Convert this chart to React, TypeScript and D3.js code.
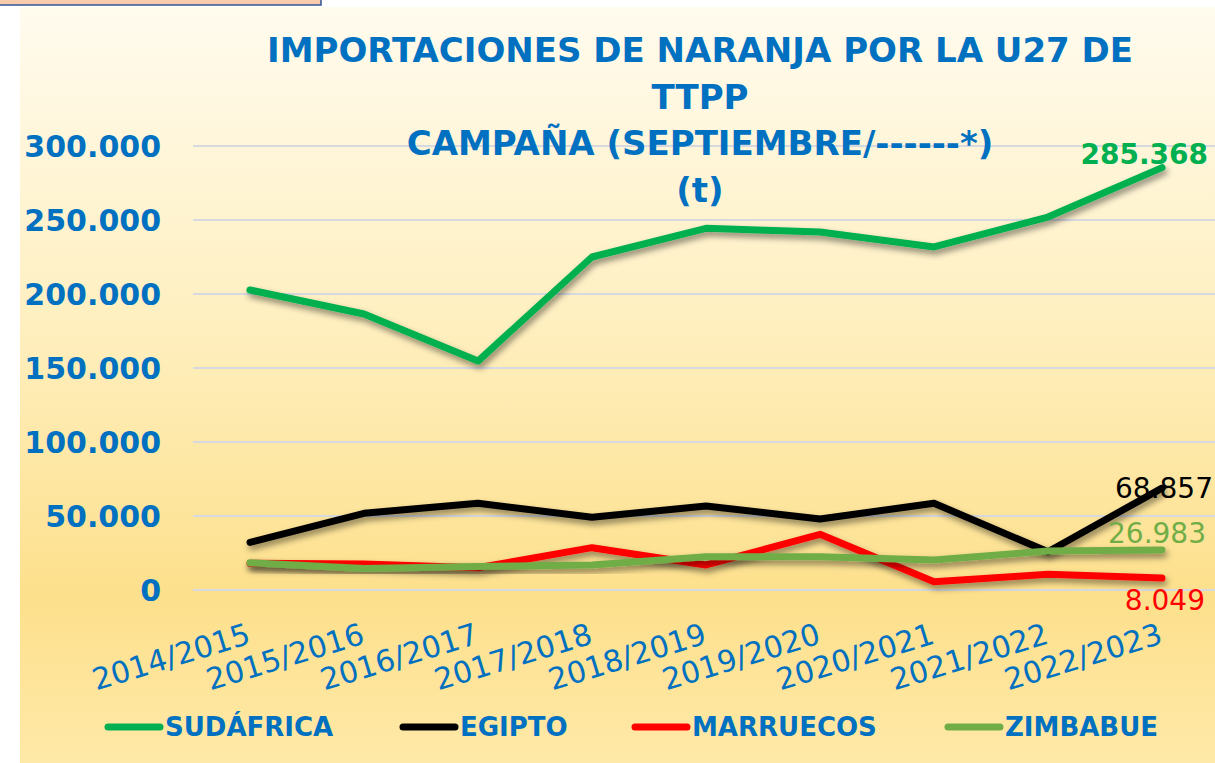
import React from "react";
import * as d3 from "d3";

const campaigns = [
  "2014/2015", "2015/2016", "2016/2017", "2017/2018", "2018/2019",
  "2019/2020", "2020/2021", "2021/2022", "2022/2023",
];
const sudafrica = [202700, 186500, 154700, 225000, 244400, 241900, 231800, 252000, 285368];
const egipto = [32200, 51800, 58600, 49100, 56800, 48000, 58600, 25800, 68857];
const marruecos = [18000, 17600, 15000, 28600, 16900, 37600, 5600, 10600, 8049];
const zimbabue = [18400, 14600, 15800, 16900, 22500, 22500, 20300, 26400, 26983];
const yTicks = [0, 50000, 100000, 150000, 200000, 250000, 300000];
const titleLines = [
  "IMPORTACIONES DE NARANJA POR LA U27 DE",
  "TTPP",
  "CAMPAÑA (SEPTIEMBRE/------*)",
  "(t)",
];

const series = [
  { name: "SUDÁFRICA", values: sudafrica, color: "#00B050" },
  { name: "EGIPTO", values: egipto, color: "#000000" },
  { name: "MARRUECOS", values: marruecos, color: "#FF0000" },
  { name: "ZIMBABUE", values: zimbabue, color: "#70AD47" },
];

const W = 1215;
const H = 763;
const blue = "#0070C0";
const font = "'DejaVu Sans', Verdana, sans-serif";

// number format with dots as thousands separator
const fmt = (v: number) => d3.format(",")(v).replace(/,/g, ".");

export default function App() {
  const x = d3.scalePoint<string>().domain(campaigns).range([250, 1162]);
  const y = d3.scaleLinear().domain([0, 300000]).range([590, 146]);
  const line = d3
    .line<number>()
    .x((_, i) => x(campaigns[i]) as number)
    .y((d) => y(d));

  const last = campaigns.length - 1;
  // end labels: right edge and baseline offset from last point (same order as series)
  const endLabels = [
    { right: 1208, dy: -4, weight: "bold" },
    { right: 1213, dy: 10, weight: "normal" },
    { right: 1205, dy: 32, weight: "normal" },
    { right: 1206, dy: -7, weight: "normal" },
  ];

  const legendX = [105, 400, 632, 945];

  return (
    <svg
      width={W}
      height={H}
      style={{ position: "absolute", left: 0, top: 0, display: "block" }}
    >
      <defs>
        <linearGradient id="bg" x1="0" y1="0" x2="0" y2="1">
          <stop offset="0" stopColor="#FFFBEE" />
          <stop offset="0.4" stopColor="#FFF0C2" />
          <stop offset="0.78" stopColor="#FDE08C" />
          <stop offset="1" stopColor="#FFE9A8" />
        </linearGradient>
        <filter id="shadow" x="-10%" y="-30%" width="120%" height="160%">
          <feDropShadow dx="2" dy="4" stdDeviation="3" floodColor="#000" floodOpacity="0.45" />
        </filter>
      </defs>
      <rect x={0} y={0} width={W} height={H} fill="#ffffff" />
      <rect x={20} y={7} width={W - 20} height={H - 7} fill="url(#bg)" />
      <rect x={-2} y={-4} width={323} height={9} fill="#F8CBAD" stroke="#2F5597" strokeWidth={1.5} />

      {/* gridlines */}
      {yTicks.map((t) => (
        <line key={t} x1={193} x2={W} y1={y(t)} y2={y(t)} stroke="#D6D9E0" strokeWidth={2} />
      ))}

      {/* y tick labels */}
      {yTicks.map((t) => (
        <text
          key={"l" + t}
          x={161}
          y={y(t)}
          dy="0.36em"
          textAnchor="end"
          fill={blue}
          fontFamily={font}
          fontWeight="bold"
          fontSize={30}
        >
          {t === 0 ? "0" : fmt(t)}
        </text>
      ))}

      {/* title */}
      {titleLines.map((s, i) => (
        <text
          key={s}
          x={700}
          y={62 + i * 46.5}
          textAnchor="middle"
          fill={blue}
          fontFamily={font}
          fontWeight="bold"
          fontSize={34}
        >
          {s}
        </text>
      ))}

      {/* lines */}
      {series.map((s) => (
        <path
          key={s.name}
          d={line(s.values) || ""}
          fill="none"
          stroke={s.color}
          strokeWidth={7}
          strokeLinejoin="round"
          strokeLinecap="round"
          filter="url(#shadow)"
        />
      ))}

      {/* end labels */}
      {series.map((s, i) => (
        <text
          key={"e" + s.name}
          x={endLabels[i].right}
          y={y(s.values[last]) + endLabels[i].dy}
          textAnchor="end"
          fill={s.color}
          fontFamily={font}
          fontWeight={endLabels[i].weight}
          fontSize={28}
        >
          {fmt(s.values[last])}
        </text>
      ))}

      {/* x labels */}
      {campaigns.map((c) => (
        <text
          key={c}
          transform={`translate(${(x(c) as number) + 2},${643}) rotate(-17)`}
          textAnchor="end"
          fill={blue}
          fontFamily={font}
          fontSize={30}
        >
          {c}
        </text>
      ))}

      {/* legend */}
      {series.map((s, i) => (
        <g key={"lg" + s.name} transform={`translate(${legendX[i]},${727})`}>
          <line x1={3} x2={55} y1={0} y2={0} stroke={s.color} strokeWidth={7} strokeLinecap="round" />
          <text
            x={60}
            y={0}
            dy="0.36em"
            fill={blue}
            fontFamily={font}
            fontWeight="bold"
            fontSize={26}
          >
            {s.name}
          </text>
        </g>
      ))}
    </svg>
  );
}
